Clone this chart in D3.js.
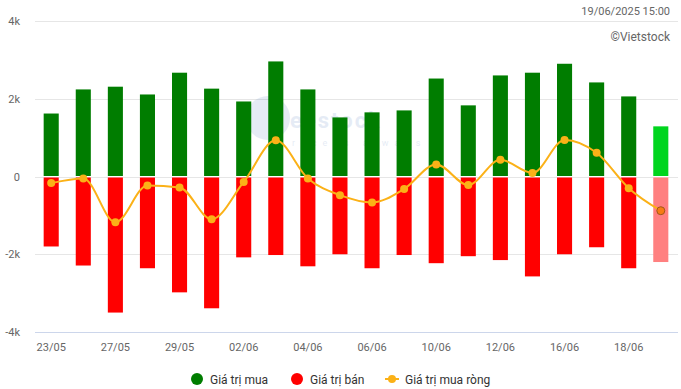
<!DOCTYPE html>
<html>
<head>
<meta charset="utf-8">
<script src="https://cdn.jsdelivr.net/npm/d3@7"></script>
<style>
  html, body { margin: 0; padding: 0; background: #fff; }
  svg { display: block; font-family: Roboto, "Noto Sans", sans-serif; }
</style>
</head>
<body>
<svg id="chart" width="681" height="389"></svg>
<script>
'use strict';

// trading days
const dates = ["23/05", "26/05", "27/05", "28/05", "29/05", "30/05", "02/06", "03/06", "04/06", "05/06",
               "06/06", "09/06", "10/06", "11/06", "12/06", "13/06", "16/06", "17/06", "18/06", "19/06"];
// Giá trị mua (buy), tỷ đồng
const buyValues = [1620, 2240, 2310, 2110, 2670, 2260, 1930, 2960, 2240, 1520,
                   1650, 1700, 2520, 1830, 2600, 2670, 2900, 2420, 2060, 1290];
// Giá trị bán (sell)
const sellValues = [-1800, -2290, -3500, -2360, -2980, -3390, -2080, -2020, -2310, -2000,
                    -2360, -2020, -2230, -2050, -2150, -2570, -2000, -1820, -2360, -2200];
// Giá trị mua ròng (net)
const netValues = [-170, -50, -1180, -230, -280, -1100, -140, 930, -50, -480,
                   -670, -320, 310, -220, 430, 90, 940, 610, -300, -880];
const yTicks = [-4000, -2000, 0, 2000, 4000];

(function() {

    const svg = d3.select("#chart");
    const plot = { left: 35, right: 677, top: 21, bottom: 332 };
    const last = dates.length - 1;

    const x = d3.scaleBand()
        .domain(dates)
        .range([plot.left, plot.right])
        .paddingInner(0.53)
        .paddingOuter(0.27);

    const y = d3.scaleLinear()
        .domain([-4000, 4000])
        .range([plot.bottom, plot.top]);

    // gridlines
    svg.append("g")
        .selectAll("line")
        .data(yTicks)
        .enter()
        .append("line")
        .attr("x1", plot.left)
        .attr("x2", plot.right + 1)
        .attr("y1", d => Math.round(y(d)) + 0.5)
        .attr("y2", d => Math.round(y(d)) + 0.5)
        .attr("stroke", d => d === -4000 ? "#ccd6eb" : "#e6e6e6")
        .attr("stroke-width", 1);

    // y labels
    svg.append("g")
        .selectAll("text")
        .data(yTicks)
        .enter()
        .append("text")
        .attr("x", 20)
        .attr("y", d => y(d) + 4)
        .attr("text-anchor", "end")
        .style("font-size", "11px")
        .style("fill", "#666")
        .text(d => d === 0 ? "0" : (d / 1000) + "k");

    // faint watermark
    const wm = svg.append("g").attr("opacity", 0.13);
    wm.append("circle").attr("cx", 268).attr("cy", 118).attr("r", 22).attr("fill", "#3d6fb6");
    wm.append("text").attr("x", 290).attr("y", 128)
        .style("font-size", "22px").style("font-weight", "bold").style("fill", "#3d6fb6")
        .style("letter-spacing", "2px").text("eestock");
    wm.append("text").attr("x", 292).attr("y", 146)
        .style("font-size", "9px").style("fill", "#3d6fb6")
        .style("letter-spacing", "6px").text("recess always");

    // buy bars
    svg.append("g")
        .selectAll("rect")
        .data(buyValues)
        .enter()
        .append("rect")
        .attr("x", (d, i) => x(dates[i]))
        .attr("width", x.bandwidth())
        .attr("y", d => y(d))
        .attr("height", d => y(0) - y(d) - 0.5)
        .attr("fill", (d, i) => i === last ? "#00d51e" : "#007d00");

    // sell bars
    svg.append("g")
        .selectAll("rect")
        .data(sellValues)
        .enter()
        .append("rect")
        .attr("x", (d, i) => x(dates[i]))
        .attr("width", x.bandwidth())
        .attr("y", y(0) + 1)
        .attr("height", d => y(d) - y(0) - 1)
        .attr("fill", (d, i) => i === last ? "#ff8080" : "#ff0000");

    // net line
    const cx = i => x(dates[i]) + x.bandwidth() / 2;
    const line = d3.line()
        .x((d, i) => cx(i))
        .y(d => y(d))
        .curve(d3.curveMonotoneX);

    svg.append("path")
        .datum(netValues)
        .attr("d", line)
        .attr("fill", "none")
        .attr("stroke", "#fbb117")
        .attr("stroke-width", 2);

    svg.append("g")
        .selectAll("circle")
        .data(netValues)
        .enter()
        .append("circle")
        .attr("cx", (d, i) => cx(i))
        .attr("cy", d => y(d))
        .attr("r", 4)
        .attr("fill", (d, i) => i === last ? "#f77b14" : "#fbb117")
        .attr("stroke", (d, i) => i === last ? "#a0561a" : "none")
        .attr("stroke-width", 1);

    // x axis labels
    const xAxis = d3.axisBottom(x)
        .tickValues(dates.filter((d, i) => i % 2 === 0))
        .tickSize(0)
        .tickPadding(0);

    const gx = svg.append("g")
        .attr("transform", "translate(0," + 343 + ")")
        .call(xAxis);
    gx.select(".domain").remove();
    gx.selectAll("text")
        .attr("dy", "0.71em")
        .style("font-size", "11px")
        .style("fill", "#666")
        .style("font-family", "Roboto, sans-serif");

    // header texts
    svg.append("text")
        .attr("x", 670).attr("y", 15)
        .attr("text-anchor", "end")
        .style("font-size", "11px").style("fill", "#666")
        .text("19/06/2025 15:00");

    svg.append("text")
        .attr("x", 670).attr("y", 41)
        .attr("text-anchor", "end")
        .style("font-size", "12px").style("fill", "#666")
        .text("©Vietstock");

    // legend
    const legend = svg.append("g").attr("transform", "translate(0,379)");
    const items = [
        { name: "Giá trị mua", color: "#007d00", type: "dot", x: 197 },
        { name: "Giá trị bán", color: "#ff0000", type: "dot", x: 297 },
        { name: "Giá trị mua ròng", color: "#fbb117", type: "line", x: 392 }
    ];
    items.forEach(it => {
        if (it.type === "dot") {
            legend.append("circle").attr("cx", it.x).attr("cy", 0).attr("r", 6).attr("fill", it.color);
        } else {
            legend.append("line").attr("x1", it.x - 7).attr("x2", it.x + 7)
                .attr("y1", 0).attr("y2", 0).attr("stroke", it.color).attr("stroke-width", 2);
            legend.append("circle").attr("cx", it.x).attr("cy", 0).attr("r", 4).attr("fill", it.color);
        }
        legend.append("text")
            .attr("x", it.x + 13)
            .attr("y", 4.5)
            .style("font-size", "12px")
            .style("fill", "#333")
            .text(it.name);
    });
})();
</script>
</body>
</html>
